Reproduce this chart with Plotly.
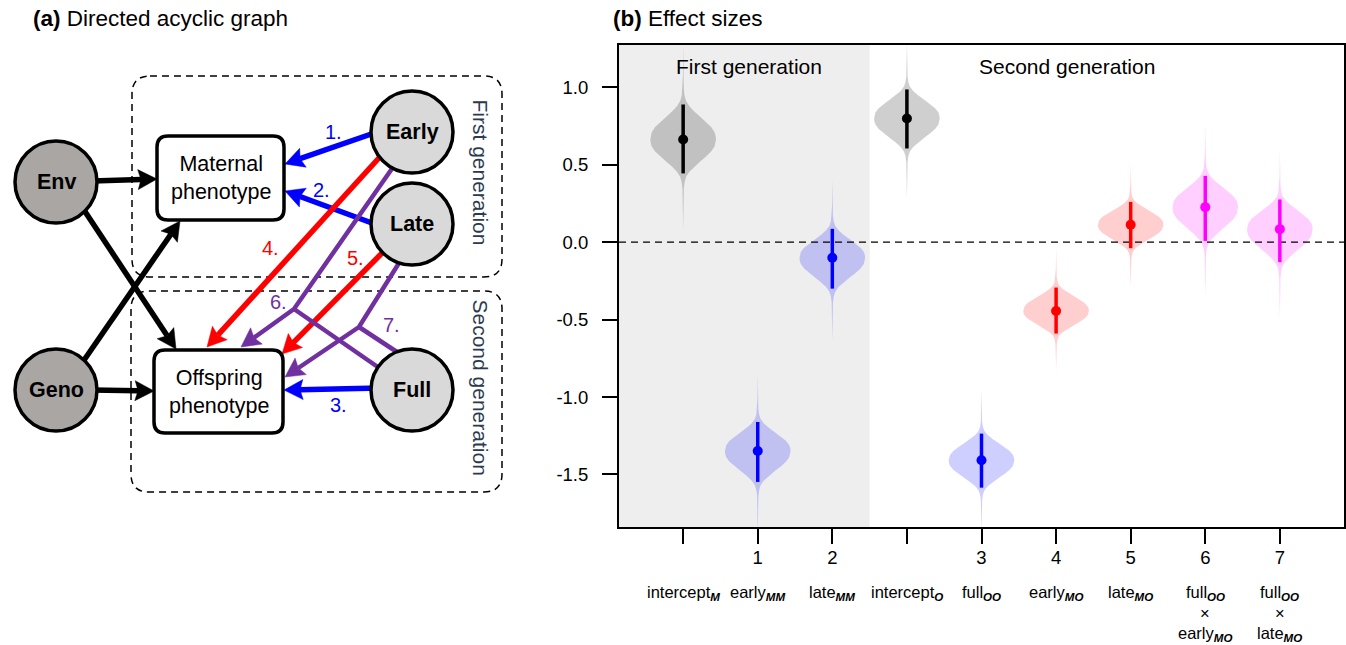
import math
import plotly.graph_objects as go

W, H = 1346, 645
FONT = "Liberation Sans"

# ---------------- panel (b) data ----------------
x_pos = [1, 2, 3, 4, 5, 6, 7, 8, 9]
tick_numbers = ["", "1", "2", "", "3", "4", "5", "6", "7"]
label_row1 = [
    "intercept<sub><b><i>M</i></b></sub>",
    "early<sub><b><i>MM</i></b></sub>",
    "late<sub><b><i>MM</i></b></sub>",
    "intercept<sub><b><i>O</i></b></sub>",
    "full<sub><b><i>OO</i></b></sub>",
    "early<sub><b><i>MO</i></b></sub>",
    "late<sub><b><i>MO</i></b></sub>",
    "full<sub><b><i>OO</i></b></sub>",
    "full<sub><b><i>OO</i></b></sub>",
]
label_row2 = ["", "", "", "", "", "", "", "×", "×"]
label_row3 = ["", "", "", "", "", "", "",
              "early<sub><b><i>MO</i></b></sub>",
              "late<sub><b><i>MO</i></b></sub>"]

means = [0.663, -1.348, -0.101, 0.799, -1.408, -0.444, 0.112, 0.226, 0.084]
ci_low = [0.444, -1.548, -0.300, 0.605, -1.585, -0.590, -0.039, 0.008, -0.129]
ci_high = [0.889, -1.161, 0.086, 0.986, -1.236, -0.293, 0.260, 0.428, 0.276]
groups = ["black", "blue", "blue", "black", "blue", "red", "red", "magenta", "magenta"]

y_ticks = [1.0, 0.5, 0.0, -0.5, -1.0, -1.5]
y_tick_text = ["1.0", "0.5", "0.0", "-0.5", "-1.0", "-1.5"]

# violin outline: offset (in CI half-widths) vs relative width
profile_z = [0.0, 0.1, 0.2, 0.35, 0.5, 0.65, 0.8, 0.95, 1.1, 1.25, 1.45, 1.8, 2.3, 2.7]
profile_w = [1.0, 0.99, 0.96, 0.86, 0.70, 0.52, 0.34, 0.19, 0.09, 0.045, 0.02, 0.008, 0.003, 0.0]

line_colors = {"black": "#000000", "blue": "#0000ff", "red": "#ff0000", "magenta": "#ff00ff"}
fill_colors = {"black": "rgba(0,0,0,0.19)", "blue": "rgba(0,0,255,0.19)",
               "red": "rgba(255,0,0,0.19)", "magenta": "rgba(255,0,255,0.19)"}

X_RANGE = [0.14, 9.86]
Y_RANGE = [-1.839, 1.273]
FIRST_GEN_END = 3.5
VIOLIN_HALF = 0.44

# ---------------- panel (a) data ----------------
node_names = ["Env", "Geno", "Early", "Late", "Full"]
node_x = [56, 56, 412, 412, 412]
node_y = [182, 390, 132, 224, 390]
node_fill = ["#aaa6a4", "#aaa6a4", "#d9d9d9", "#d9d9d9", "#d9d9d9"]
NODE_R = 41

box_labels = ["Maternal<br>phenotype", "Offspring<br>phenotype"]
box_x0 = [157, 154]
box_x1 = [284, 283]
box_y0 = [136, 350]
box_y1 = [220, 433]

gen_labels = ["First generation", "Second generation"]
gen_x0 = [132, 131]
gen_x1 = [502, 502]
gen_y0 = [76, 291]
gen_y1 = [277, 492]

# edges: polyline points, colour, arrowhead?
edges = [
    ([(92, 181), (157, 179)], "#000000", True),
    ([(80, 204), (176, 349)], "#000000", True),
    ([(80, 366), (180, 221)], "#000000", True),
    ([(92, 390), (154, 391)], "#000000", True),
    ([(380, 131), (285, 164)], "#0000ff", True),
    ([(380, 226), (285, 191)], "#0000ff", True),
    ([(380, 388), (284, 390)], "#0000ff", True),
    ([(388, 148), (207, 347)], "#ff0000", True),
    ([(390, 245), (282, 354)], "#ff0000", True),
    ([(398, 160), (294, 309), (241, 347)], "#7030a0", True),
    ([(294, 309), (385, 372)], "#7030a0", False),
    ([(404, 255), (359, 327), (285, 377)], "#7030a0", True),
    ([(359, 327), (400, 354)], "#7030a0", False),
]
edge_labels = ["1.", "2.", "3.", "4.", "5.", "6.", "7."]
edge_label_x = [333, 321, 338, 270, 355, 278, 391]
edge_label_y = [132, 190, 405, 248, 258, 302, 325]
edge_label_col = ["#0000ff", "#0000ff", "#0000ff", "#ff0000", "#ff0000", "#7030a0", "#7030a0"]

fig = go.Figure()

# ---------------- panel (b) traces ----------------
for i in range(len(x_pos)):
    xc, m = x_pos[i], means[i]
    hu, hd = ci_high[i] - m, m - ci_low[i]
    xs, ys = [], []
    for z, w in zip(reversed(profile_z), reversed(profile_w)):
        xs.append(xc + w * VIOLIN_HALF); ys.append(m - z * hd)
    for z, w in zip(profile_z[1:], profile_w[1:]):
        xs.append(xc + w * VIOLIN_HALF); ys.append(m + z * hu)
    for z, w in zip(reversed(profile_z), reversed(profile_w)):
        xs.append(xc - w * VIOLIN_HALF); ys.append(m + z * hu)
    for z, w in zip(profile_z[1:], profile_w[1:]):
        xs.append(xc - w * VIOLIN_HALF); ys.append(m - z * hd)
    fig.add_trace(go.Scatter(x=xs, y=ys, mode="lines", fill="toself",
                             fillcolor=fill_colors[groups[i]], line=dict(width=0),
                             hoverinfo="skip", showlegend=False))

fig.add_trace(go.Scatter(x=X_RANGE, y=[0, 0], mode="lines",
                         line=dict(color="black", width=1.4, dash="7px,5px"),
                         hoverinfo="skip", showlegend=False))

for i in range(len(x_pos)):
    c = line_colors[groups[i]]
    fig.add_trace(go.Scatter(x=[x_pos[i], x_pos[i]], y=[ci_low[i], ci_high[i]], mode="lines",
                             line=dict(color=c, width=3.5), showlegend=False))
    fig.add_trace(go.Scatter(x=[x_pos[i]], y=[means[i]], mode="markers",
                             marker=dict(color=c, size=10), showlegend=False))

# invisible trace to create the overlay pixel axes
fig.add_trace(go.Scatter(x=[0], y=[0], xaxis="x2", yaxis="y2", mode="markers",
                         marker=dict(opacity=0), hoverinfo="skip", showlegend=False))

shapes = []
shapes.append(dict(type="rect", xref="x", yref="y domain", x0=X_RANGE[0], x1=FIRST_GEN_END,
                   y0=0, y1=1, fillcolor="#eeeeee", line=dict(width=0), layer="below"))

annotations = []
annotations.append(dict(text="<b>(b)</b> Effect sizes", xref="x2", yref="y2", x=611, y=18,
                        xanchor="left", yanchor="middle", showarrow=False, font=dict(size=22.5)))
annotations.append(dict(text="First generation", xref="x2", yref="y2", x=749,
                        y=66, showarrow=False, font=dict(size=21)))
annotations.append(dict(text="Second generation", xref="x2", yref="y2", x=1067,
                        y=66, showarrow=False, font=dict(size=21)))
for i in range(len(x_pos)):
    annotations.append(dict(text=label_row1[i], xref="x", yref="y2", x=x_pos[i], y=593,
                            showarrow=False, font=dict(size=16.5)))
    if label_row2[i]:
        annotations.append(dict(text=label_row2[i], xref="x", yref="y2", x=x_pos[i], y=613,
                                showarrow=False, font=dict(size=16.5)))
    if label_row3[i]:
        annotations.append(dict(text=label_row3[i], xref="x", yref="y2", x=x_pos[i], y=634,
                                showarrow=False, font=dict(size=16.5)))

# ---------------- panel (a) ----------------
def rrect(x0, y0, x1, y1, r):
    return (f"M {x0+r},{y0} L {x1-r},{y0} Q {x1},{y0} {x1},{y0+r} L {x1},{y1-r} "
            f"Q {x1},{y1} {x1-r},{y1} L {x0+r},{y1} Q {x0},{y1} {x0},{y1-r} "
            f"L {x0},{y0+r} Q {x0},{y0} {x0+r},{y0} Z")

for k in range(len(gen_labels)):
    shapes.append(dict(type="path", xref="x2", yref="y2",
                       path=rrect(gen_x0[k], gen_y0[k], gen_x1[k], gen_y1[k], 18),
                       line=dict(color="black", width=1.5, dash="7px,5px"),
                       fillcolor="rgba(0,0,0,0)"))

HEAD_LEN, HEAD_HW = 19, 10
for pts, col, head in edges:
    width = 4.5 if col == "#7030a0" else 5.5
    line_pts = [list(p) for p in pts]
    if head:
        (x0, y0), (x1, y1) = pts[-2], pts[-1]
        L = math.hypot(x1 - x0, y1 - y0)
        ux, uy = (x1 - x0) / L, (y1 - y0) / L
        line_pts[-1] = [x1 - ux * (HEAD_LEN - 3), y1 - uy * (HEAD_LEN - 3)]
    path = "M " + " L ".join(f"{x:.1f},{y:.1f}" for x, y in line_pts)
    shapes.append(dict(type="path", xref="x2", yref="y2", path=path,
                       line=dict(color=col, width=width), fillcolor="rgba(0,0,0,0)"))
    if head:
        bx, by = x1 - ux * HEAD_LEN, y1 - uy * HEAD_LEN
        px, py = -uy, ux
        tri = (f"M {x1:.1f},{y1:.1f} L {bx+px*HEAD_HW:.1f},{by+py*HEAD_HW:.1f} "
               f"L {bx+ux*3:.1f},{by+uy*3:.1f} "
               f"L {bx-px*HEAD_HW:.1f},{by-py*HEAD_HW:.1f} Z")
        shapes.append(dict(type="path", xref="x2", yref="y2", path=tri,
                           line=dict(color=col, width=0.5), fillcolor=col))

for k in range(len(node_names)):
    shapes.append(dict(type="circle", xref="x2", yref="y2",
                       x0=node_x[k] - NODE_R, x1=node_x[k] + NODE_R,
                       y0=node_y[k] - NODE_R, y1=node_y[k] + NODE_R,
                       fillcolor=node_fill[k], line=dict(color="black", width=3.5)))
    annotations.append(dict(text=f"<b>{node_names[k]}</b>", xref="x2", yref="y2",
                            x=node_x[k], y=node_y[k], showarrow=False, font=dict(size=21.5)))

for k in range(len(box_labels)):
    shapes.append(dict(type="path", xref="x2", yref="y2",
                       path=rrect(box_x0[k], box_y0[k], box_x1[k], box_y1[k], 11),
                       fillcolor="white", line=dict(color="black", width=3.5)))
    annotations.append(dict(text=box_labels[k], xref="x2", yref="y2",
                            x=(box_x0[k] + box_x1[k]) / 2, y=(box_y0[k] + box_y1[k]) / 2,
                            showarrow=False, font=dict(size=21.5)))

for k in range(len(edge_labels)):
    annotations.append(dict(text=edge_labels[k], xref="x2", yref="y2",
                            x=edge_label_x[k], y=edge_label_y[k], showarrow=False,
                            font=dict(size=20, color=edge_label_col[k])))

annotations.append(dict(text="First generation", xref="x2", yref="y2", x=480,
                        y=(gen_y0[0] + gen_y1[0]) / 2 - 4, textangle=90, showarrow=False,
                        font=dict(size=21, color="#2b3a4e")))
annotations.append(dict(text="Second generation", xref="x2", yref="y2", x=480,
                        y=(gen_y0[1] + gen_y1[1]) / 2 - 4, textangle=90, showarrow=False,
                        font=dict(size=21, color="#2b3a4e")))
annotations.append(dict(text="<b>(a)</b> Directed acyclic graph", xref="x2", yref="y2", x=31, y=18,
                        xanchor="left", yanchor="middle", showarrow=False, font=dict(size=22.5)))

fig.update_layout(
    width=W, height=H,
    margin=dict(l=0, r=0, t=0, b=0),
    paper_bgcolor="white", plot_bgcolor="rgba(0,0,0,0)",
    font=dict(family=FONT, color="black"),
    showlegend=False,
    shapes=shapes, annotations=annotations,
    xaxis=dict(domain=[619 / W, 1344 / W], range=X_RANGE, tickvals=x_pos, ticktext=tick_numbers,
               ticks="outside", ticklen=15, tickwidth=1.5, tickcolor="black",
               showline=True, linewidth=2, linecolor="black", mirror=True,
               showgrid=False, zeroline=False, tickfont=dict(size=18.5), ticklabelstandoff=-2,
               anchor="y"),
    yaxis=dict(domain=[1 - 527 / H, 1 - 45 / H], range=Y_RANGE, tickvals=y_ticks, ticktext=y_tick_text,
               ticks="outside", ticklen=15, tickwidth=1.5, tickcolor="black",
               showline=True, linewidth=2, linecolor="black", mirror=True,
               showgrid=False, zeroline=False, tickfont=dict(size=18.5), ticklabelstandoff=10,
               anchor="x"),
    xaxis2=dict(domain=[0, 1], range=[0, W], visible=False, anchor="y2", fixedrange=True),
    yaxis2=dict(domain=[0, 1], range=[H, 0], visible=False, anchor="x2", fixedrange=True),
)

fig.write_html("out.html")
